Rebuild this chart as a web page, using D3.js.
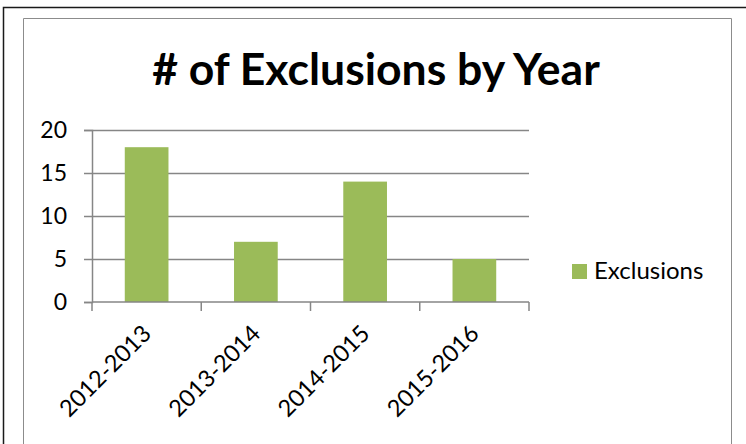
<!DOCTYPE html>
<html>
<head>
<meta charset="utf-8">
<script src="https://cdn.jsdelivr.net/npm/d3@7"></script>
<style>
  body { margin: 0; background: #fff; }
  svg { display: block; font-family: Lato, "Open Sans", sans-serif; }
</style>
</head>
<body>
<div class="chart"></div>
<script>
// chart data
var years = ["2012-2013", "2013-2014", "2014-2015", "2015-2016"];
var exclusions = [18, 7, 14, 5];
var yTicks = [0, 5, 10, 15, 20];
var seriesName = "Exclusions";
var chartTitle = "# of Exclusions by Year";

var W = 746, H = 444;
var margin = {top: 130, right: 217, bottom: 142, left: 92},
    width = W - margin.left - margin.right,
    height = H - margin.top - margin.bottom;

var svg = d3.select("div.chart").append("svg")
    .attr("width", W)
    .attr("height", H);

// frames
svg.append("path")
    .attr("d", "M3.5," + H + "V7.5H" + W)
    .attr("fill", "none")
    .attr("stroke", "#1a1a1a")
    .attr("stroke-width", 1.5);
svg.append("path")
    .attr("d", "M23.5," + H + "V18.5H731.5V" + H)
    .attr("fill", "none")
    .attr("stroke", "#8c8c8c")
    .attr("stroke-width", 1);

svg.append("text")
    .attr("x", 376)
    .attr("y", 85)
    .attr("text-anchor", "middle")
    .attr("font-weight", "bold")
    .attr("font-size", 44.5)
    .attr("fill", "#000")
    .text(chartTitle);

var g = svg.append("g")
    .attr("transform", "translate(" + margin.left + "," + margin.top + ")");

// scales
var x = d3.scaleBand()
    .domain(years)
    .range([0, width])
    .paddingInner(0.6)
    .paddingOuter(0.3);

var xCat = d3.scaleBand()
    .domain(years)
    .range([0, width]);

var y = d3.scaleLinear()
    .domain([0, 20])
    .range([height, 0]);

// gridlines
g.selectAll(".grid")
    .data(yTicks.filter(function (d) { return d > 0; }))
    .enter().append("line")
    .attr("x1", 0)
    .attr("x2", width)
    .attr("y1", function (d) { return Math.round(y(d)) + 0.5; })
    .attr("y2", function (d) { return Math.round(y(d)) + 0.5; })
    .attr("stroke", "#868686")
    .attr("stroke-width", 1.5);

// bars
g.selectAll(".bar")
    .data(exclusions)
    .enter().append("rect")
    .attr("class", "bar")
    .attr("x", function (d, i) { return x(years[i]); })
    .attr("width", x.bandwidth())
    .attr("y", function (d) { return y(d); })
    .attr("height", function (d) { return height - y(d); })
    .attr("fill", "#9bbb59");

// y axis
var yAxis = g.append("g")
    .call(d3.axisLeft(y).tickValues(yTicks).tickSize(8).tickPadding(17));
yAxis.select(".domain").attr("stroke", "#868686").attr("stroke-width", 1.5);
yAxis.selectAll(".tick line").attr("stroke", "#868686").attr("stroke-width", 1.5);
yAxis.selectAll(".tick text").attr("font-size", 23).attr("fill", "#000")
    .attr("font-family", "Lato, sans-serif");

// x axis with ticks at category edges
var xAxis = g.append("g")
    .attr("transform", "translate(0," + height + ")");
xAxis.append("line")
    .attr("x1", 0).attr("x2", width)
    .attr("stroke", "#868686").attr("stroke-width", 1.5);
xAxis.selectAll(".edge")
    .data(years.concat(["end"]))
    .enter().append("line")
    .attr("x1", function (d, i) { return i < years.length ? xCat(d) : width; })
    .attr("x2", function (d, i) { return i < years.length ? xCat(d) : width; })
    .attr("y1", 0).attr("y2", 9)
    .attr("stroke", "#868686").attr("stroke-width", 1.5);
xAxis.selectAll(".lbl")
    .data(years)
    .enter().append("text")
    .attr("transform", function (d) {
        return "translate(" + (xCat(d) + xCat.bandwidth() / 2 + 6) + ",33) rotate(-45)";
    })
    .attr("text-anchor", "end")
    .attr("font-size", 23.5)
    .attr("fill", "#000")
    .text(function (d) { return d; });

// legend
var legend = svg.append("g").attr("transform", "translate(572,264)");
legend.append("rect")
    .attr("width", 15).attr("height", 15)
    .attr("fill", "#9bbb59");
legend.append("text")
    .attr("x", 22).attr("y", 15)
    .attr("font-size", 24)
    .attr("fill", "#000")
    .text(seriesName);
</script>
</body>
</html>
